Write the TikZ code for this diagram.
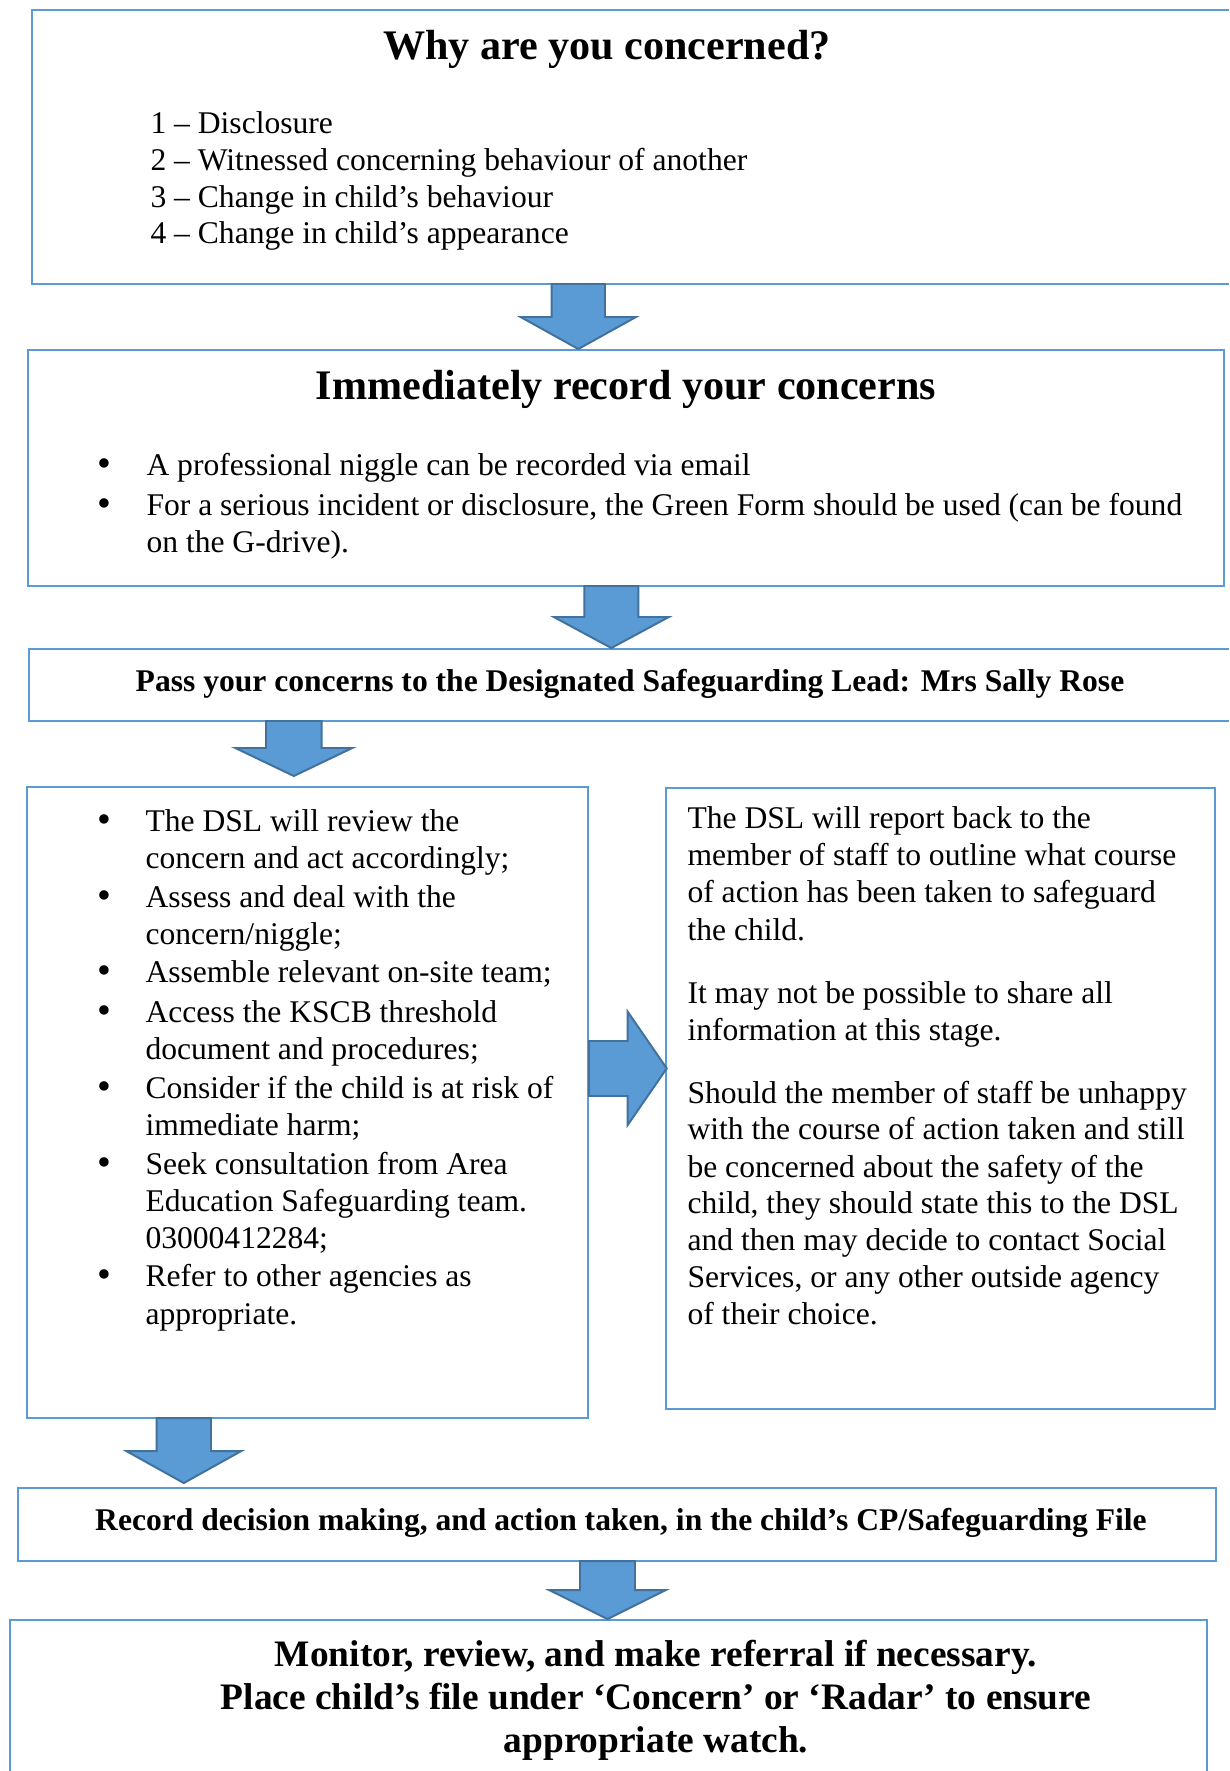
\documentclass[tikz,border=0pt]{standalone}
\usepackage{fontspec}
\setmainfont{Liberation Serif}
\usetikzlibrary{fit}
\definecolor{boxblue}{HTML}{5B9BD5}
\definecolor{arrline}{HTML}{41719C}
\newcommand\blkdown[6]{%
  \draw[blk] (#1-#5,#2) -- (#1+#5,#2) -- (#1+#5,#3) -- (#1+#6,#3) -- (#1,#4) -- (#1-#6,#3) -- (#1-#5,#3) -- cycle;}
\begin{document}
\begin{tikzpicture}[x=0.38pt,y=-0.38pt,
  box/.style={draw=boxblue,line width=0.8pt,inner sep=0pt},
  blk/.style={fill=boxblue,draw=arrline,line width=0.75pt,line join=miter},
  txt/.style={anchor=base west,inner sep=0pt,font=\fontsize{12}{14}\selectfont},
  ctxt/.style={anchor=base,inner sep=0pt,font=\fontsize{12}{14}\selectfont\bfseries},
  ttl/.style={anchor=base,inner sep=0pt,font=\fontsize{16}{19}\selectfont\bfseries},
  big/.style={anchor=base,inner sep=0pt,font=\fontsize{14.2}{17}\selectfont\bfseries},
  bul/.style={anchor=base,inner sep=0pt,font=\fontsize{15}{14}\selectfont}]
\useasboundingbox (0,0) rectangle (1229,1771);
\clip (0,0) rectangle (1229,1771);
\fill[white] (0,0) rectangle (1229,1771);

% boxes
\node[box,fit={(32,10) (1245,284)}] (b1) {};
\node[box,fit={(28,350) (1224,586)}] (b2) {};
\node[box,fit={(29,649) (1245,721)}] (b3) {};
\node[box,fit={(27,787) (588,1418)}] (b4) {};
\node[box,fit={(666,788) (1215,1409)}] (b5) {};
\node[box,fit={(18,1488) (1216,1561)}] (b6) {};
\node[box,fit={(10,1620) (1207,1800)}] (b7) {};

% block arrows
\blkdown{578.3}{284}{317}{349}{26.7}{57.7}
\blkdown{611.3}{586}{617}{648}{27}{57.5}
\blkdown{293.8}{721}{748}{776}{27.8}{58.5}
\blkdown{183.8}{1418}{1451}{1483}{27.2}{57.5}
\blkdown{607.5}{1561}{1590}{1619}{27.5}{58.3}
\draw[blk] (589,1041) -- (627.7,1041) -- (627.7,1011.7) -- (666.7,1068.4) -- (627.7,1125) -- (627.7,1096) -- (589,1096) -- cycle;

% box 1
\node[ttl] (t1) at (607,60) {Why are you concerned?};
\node[txt] (l1a) at (150,134) {1 – Disclosure};
\node[txt] (l1b) at (150,170.7) {2 – Witnessed concerning behaviour of another};
\node[txt] (l1c) at (150,207.3) {3 – Change in child’s behaviour};
\node[txt] (l1d) at (150,244) {4 – Change in child’s appearance};

% box 2
\node[ttl] (t2) at (626,400) {Immediately record your concerns};
\node[bul] (p2a) at (104,477) {•};
\node[txt] (l2a) at (146,476) {A professional niggle can be recorded via email};
\node[bul] (p2b) at (104,517) {•};
\node[txt] (l2b) at (146,516) {For a serious incident or disclosure, the Green Form should be used (can be found};
\node[txt] (l2c) at (146,553) {on the G-drive).};

% box 3
\node[ctxt] (t3) at (630,691) {Pass your concerns to the Designated Safeguarding Lead: Mrs Sally Rose};

% box 4
\node[bul] (p4a) at (104,832) {•};
\node[txt] (l4a) at (145,831) {The DSL will review the};
\node[txt] (l4b) at (145,868) {concern and act accordingly;};
\node[bul] (p4b) at (104,908) {•};
\node[txt] (l4c) at (145,907) {Assess and deal with the};
\node[txt] (l4d) at (145,944) {concern/niggle;};
\node[bul] (p4c) at (104,983) {•};
\node[txt] (l4e) at (145,982) {Assemble relevant on-site team;};
\node[bul] (p4d) at (104,1023) {•};
\node[txt] (l4f) at (145,1022) {Access the KSCB threshold};
\node[txt] (l4g) at (145,1059) {document and procedures;};
\node[bul] (p4e) at (104,1099) {•};
\node[txt] (l4h) at (145,1098) {Consider if the child is at risk of};
\node[txt] (l4i) at (145,1135) {immediate harm;};
\node[bul] (p4f) at (104,1175) {•};
\node[txt] (l4j) at (145,1174) {Seek consultation from Area};
\node[txt] (l4k) at (145,1211) {Education Safeguarding team.};
\node[txt] (l4l) at (145,1248) {03000412284;};
\node[bul] (p4g) at (104,1287) {•};
\node[txt] (l4m) at (145,1286) {Refer to other agencies as};
\node[txt] (l4n) at (145,1324) {appropriate.};

% box 5
\node[txt] (l5a) at (687,828) {The DSL will report back to the};
\node[txt] (l5b) at (687,865) {member of staff to outline what course};
\node[txt] (l5c) at (687,902) {of action has been taken to safeguard};
\node[txt] (l5d) at (687,940) {the child.};
\node[txt] (l5e) at (687,1003) {It may not be possible to share all};
\node[txt] (l5f) at (687,1040) {information at this stage.};
\node[txt] (l5g) at (687,1103) {Should the member of staff be unhappy};
\node[txt] (l5h) at (687,1139) {with the course of action taken and still};
\node[txt] (l5i) at (687,1177) {be concerned about the safety of the};
\node[txt] (l5j) at (687,1213) {child, they should state this to the DSL};
\node[txt] (l5k) at (687,1250) {and then may decide to contact Social};
\node[txt] (l5l) at (687,1287) {Services, or any other outside agency};
\node[txt] (l5m) at (687,1324) {of their choice.};

% box 6
\node[ctxt] (t6) at (621,1530) {Record decision making, and action taken, in the child’s CP/Safeguarding File};

% box 7
\node[big] (l7a) at (656,1666) {Monitor, review, and make referral if necessary.};
\node[big] (l7b) at (656,1709) {Place child’s file under ‘Concern’ or ‘Radar’ to ensure};
\node[big] (l7c) at (656,1752) {appropriate watch.};
\end{tikzpicture}
\end{document}
